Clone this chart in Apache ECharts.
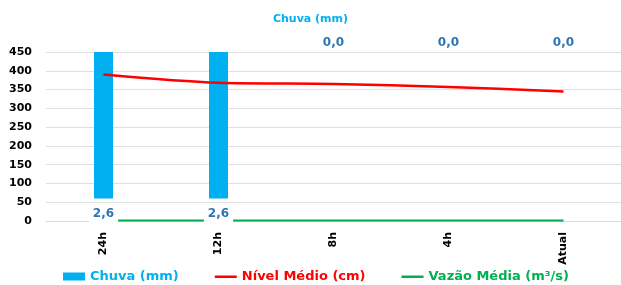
<!DOCTYPE html>
<html>
<head>
<meta charset="utf-8">
<script src="https://cdn.jsdelivr.net/npm/echarts@6/dist/echarts.min.js"></script>
<style>
  html, body { margin: 0; padding: 0; background: #fff; }
  #chart { width: 621px; height: 285px; }
</style>
</head>
<body>
<div id="chart"></div>
<script>
// categorias (eixo x)
const categorias = ['24h', '12h', '8h', '4h', 'Atual'];
// chuva em mm (eixo secundário invertido)
const chuva = [2.6, 2.6, 0, 0, 0];
// nível médio em cm
const nivel = [390, 368, 365, 357, 345];
// vazão média em m³/s
const vazao = [1.5, 1.5, 1.5, 1.5, 1.5];

const fonte = 'DejaVu Sans';
const azul = '#00b0f0';
const vermelho = '#ff0000';
const verde = '#00b050';
// ícone de linha para a legenda (linha fina centrada numa caixa 22x8)
const iconeLinha = 'path://M0,0L0.01,0M0,3H22V5.5H0ZM0,8L0.01,8';

const myChart = echarts.init(document.getElementById('chart'));

const option = {
  animation: false,
  textStyle: { fontFamily: fonte },
  title: {
    text: 'Chuva (mm)',
    left: 'center',
    top: 9,
    textStyle: { color: azul, fontSize: 11, fontWeight: 'bold', fontFamily: fonte }
  },
  legend: {
    top: 265,
    left: 58,
    itemGap: 36,
    itemWidth: 22,
    itemHeight: 8,
    textStyle: { fontSize: 13, fontWeight: 'bold', fontFamily: fonte },
    data: [
      { name: 'Chuva (mm)', icon: 'rect', textStyle: { color: azul } },
      { name: 'Nível Médio (cm)', icon: iconeLinha, itemStyle: { color: vermelho }, textStyle: { color: vermelho } },
      { name: 'Vazão Média (m³/s)', icon: iconeLinha, itemStyle: { color: verde }, textStyle: { color: verde } }
    ]
  },
  grid: { left: 46, right: 0, top: 52, bottom: 64 },
  xAxis: {
    type: 'category',
    data: categorias,
    axisLine: { lineStyle: { color: '#d9d9d9' } },
    axisTick: { lineStyle: { color: '#d9d9d9' }, length: 5 },
    axisLabel: {
      rotate: 90,
      color: '#000',
      fontSize: 11,
      fontWeight: 'bold',
      margin: 11
    }
  },
  yAxis: [{
    type: 'value',
    min: 0,
    max: 450,
    interval: 50,
    axisLine: { show: false },
    axisTick: { show: false },
    splitLine: { lineStyle: { color: '#e0e0e0' } },
    axisLabel: { color: '#000', fontSize: 11, fontWeight: 'bold', margin: 14 }
  }, {
    type: 'value',
    min: 0,
    max: 3,
    inverse: true,
    show: false
  }],
  series: [{
    name: 'Chuva (mm)',
    type: 'bar',
    yAxisIndex: 1,
    barWidth: 19,
    itemStyle: { color: azul },
    z: 2,
    label: {
      show: true,
      color: '#2e75b6',
      fontSize: 12,
      fontWeight: 'bold',
      backgroundColor: '#fff',
      padding: [3, 4],
      formatter: p => p.value.toFixed(1).replace('.', ',')
    },
    data: chuva.map(v => ({ value: v, label: { position: v > 0 ? 'bottom' : 'top', distance: v > 0 ? 6 : 0 } }))
  }, {
    name: 'Nível Médio (cm)',
    type: 'line',
    symbol: 'none',
    smooth: 0.3,
    z: 3,
    lineStyle: { color: vermelho, width: 2.5 },
    itemStyle: { color: vermelho },
    data: nivel
  }, {
    name: 'Vazão Média (m³/s)',
    type: 'line',
    symbol: 'none',
    z: 1,
    lineStyle: { color: verde, width: 2 },
    itemStyle: { color: verde },
    data: vazao
  }]
};

myChart.setOption(option);
</script>
</body>
</html>
